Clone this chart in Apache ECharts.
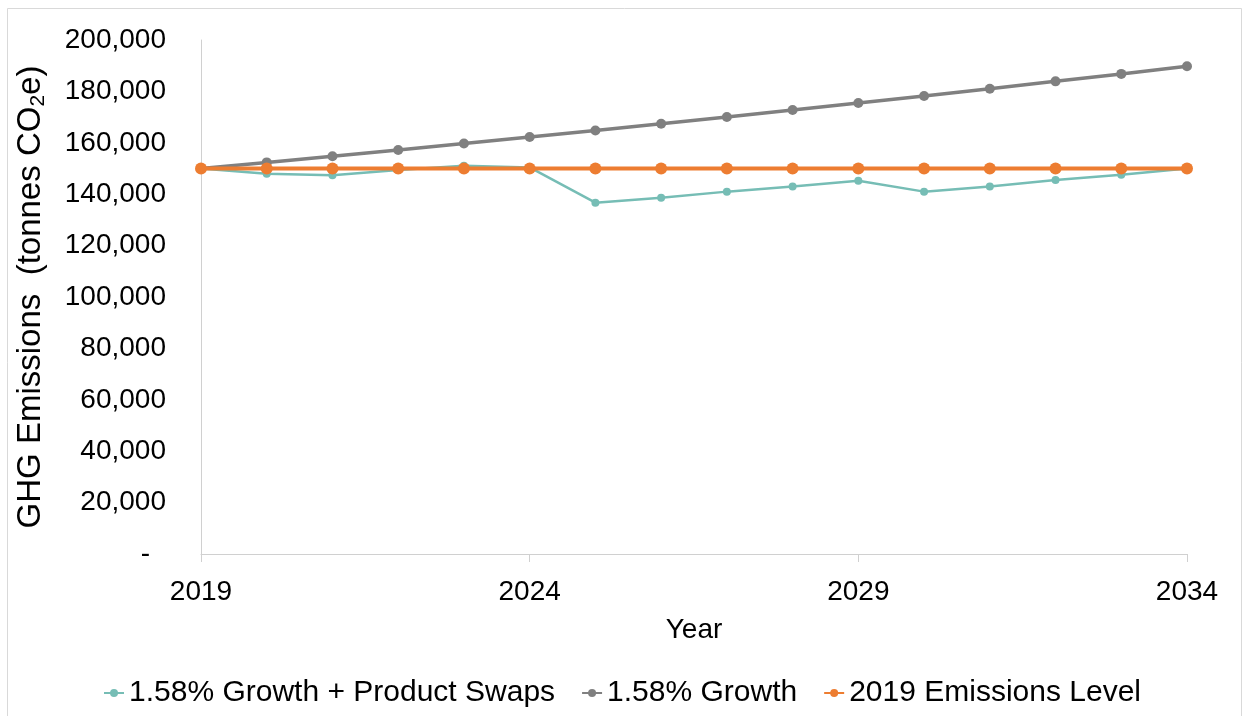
<!DOCTYPE html>
<html>
<head>
<meta charset="utf-8">
<title>GHG Emissions Projection</title>
<script src="https://cdn.jsdelivr.net/npm/echarts@6/dist/echarts.min.js"></script>
<style>
  html, body { margin: 0; padding: 0; background: #ffffff; }
  #chart { width: 1244px; height: 716px; }
</style>
</head>
<body>
<div id="chart"></div>
<script>
// Years on the horizontal axis
const years = ['2019', '2020', '2021', '2022', '2023', '2024', '2025', '2026',
               '2027', '2028', '2029', '2030', '2031', '2032', '2033', '2034'];

// Emissions in tonnes CO2e for each scenario
const growthWithSwaps = [150000, 148000, 147400, 149400, 151100, 150400, 136700, 138600,
                         141000, 143000, 145200, 141000, 143000, 145500, 147600, 150000];
const growthOnly = [150000, 152370, 154777, 157223, 159707, 162230, 164794, 167397,
                    170042, 172729, 175458, 178231, 181047, 183907, 186813, 189765];
const level2019 = [150000, 150000, 150000, 150000, 150000, 150000, 150000, 150000,
                   150000, 150000, 150000, 150000, 150000, 150000, 150000, 150000];

const seriesNames = ['1.58% Growth + Product Swaps', '1.58% Growth', '2019 Emissions Level'];

const FONT = '"Liberation Sans", Arial, sans-serif';
const AXIS_GREY = '#d0d0d0';

const chart = echarts.init(document.getElementById('chart'), null, { renderer: 'canvas' });

chart.setOption({
  animation: false,
  backgroundColor: '#ffffff',
  textStyle: { fontFamily: FONT, color: '#000000' },
  graphic: [{
    type: 'rect',
    shape: { x: 7.5, y: 8.5, width: 1234, height: 720 },
    style: { fill: 'none', stroke: '#d9d9d9', lineWidth: 1 },
    silent: true,
    z: -1
  }],
  grid: { left: 201, right: 57, top: 40, bottom: 162, containLabel: false },
  legend: {
    bottom: 3,
    left: 'center',
    itemGap: 26,
    itemWidth: 20,
    itemHeight: 10,
    textStyle: { fontFamily: FONT, fontSize: 30, color: '#000000' },
    data: seriesNames
  },
  xAxis: {
    type: 'category',
    data: years,
    boundaryGap: false,
    name: 'Year',
    nameLocation: 'middle',
    nameGap: 62,
    nameTextStyle: { fontFamily: FONT, fontSize: 28, color: '#000000' },
    axisLine: { show: true, lineStyle: { color: AXIS_GREY, width: 1 } },
    axisTick: { show: true, interval: 4, length: 8, lineStyle: { color: AXIS_GREY } },
    axisLabel: { interval: 4, margin: 24, fontFamily: FONT, fontSize: 28, color: '#000000' },
    splitLine: { show: false }
  },
  yAxis: {
    type: 'value',
    min: 0,
    max: 200000,
    interval: 20000,
    name: '{t|GHG Emissions  (tonnes CO}{s|2}{t|e)}',
    nameLocation: 'middle',
    nameGap: 152,
    nameRotate: 90,
    nameTextStyle: {
      rich: {
        t: { fontFamily: FONT, fontSize: 33, lineHeight: 36, color: '#000000' },
        s: { fontFamily: FONT, fontSize: 21, lineHeight: 17, verticalAlign: 'bottom', color: '#000000' }
      }
    },
    axisLine: { show: true, lineStyle: { color: AXIS_GREY, width: 1 } },
    axisTick: { show: false },
    splitLine: { show: false },
    axisLabel: {
      margin: 35,
      fontFamily: FONT,
      fontSize: 28,
      color: '#000000',
      formatter: function (v) {
        if (v === 0) return '{d|-}';
        return v.toLocaleString('en-US');
      },
      rich: {
        d: { fontFamily: FONT, fontSize: 28, color: '#000000', padding: [0, 16, 0, 0] }
      }
    }
  },
  series: [
    {
      name: seriesNames[0],
      type: 'line',
      data: growthWithSwaps,
      symbol: 'circle',
      symbolSize: 8,
      lineStyle: { color: '#76bdb5', width: 2.5 },
      itemStyle: { color: '#76bdb5' },
      z: 2
    },
    {
      name: seriesNames[1],
      type: 'line',
      data: growthOnly,
      symbol: 'circle',
      symbolSize: 10,
      lineStyle: { color: '#808080', width: 3.5 },
      itemStyle: { color: '#808080' },
      z: 3
    },
    {
      name: seriesNames[2],
      type: 'line',
      data: level2019,
      symbol: 'circle',
      symbolSize: 12,
      lineStyle: { color: '#ed7d31', width: 4 },
      itemStyle: { color: '#ed7d31' },
      z: 4
    }
  ]
});
</script>
</body>
</html>
